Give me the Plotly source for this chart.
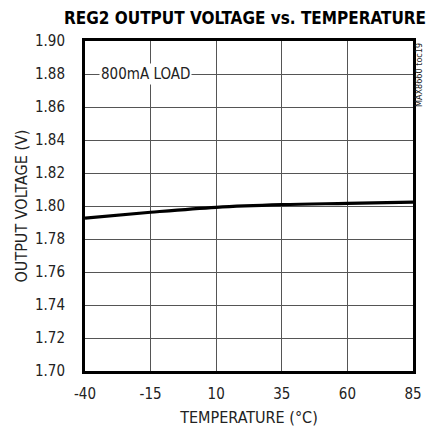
import plotly.graph_objects as go

temps = [-40, -15, 10, 35, 60, 85]
vout = [1.7927, 1.7962, 1.7992, 1.8008, 1.8016, 1.8024]
x_ticks = [-40, -15, 10, 35, 60, 85]
y_ticks = [1.70, 1.72, 1.74, 1.76, 1.78, 1.80, 1.82, 1.84, 1.86, 1.88, 1.90]

FONT = "DejaVu Sans Condensed, Liberation Sans Narrow, sans-serif"
TXT = "#222"

fig = go.Figure()
fig.add_trace(go.Scatter(x=temps, y=vout, mode="lines",
                         line=dict(color="black", width=3.2, shape="spline"),
                         showlegend=False, hoverinfo="skip"))

fig.update_layout(
    width=426, height=430,
    margin=dict(l=85, r=13, t=41, b=59, autoexpand=False),
    plot_bgcolor="white", paper_bgcolor="white",
    font=dict(family=FONT, size=15, color=TXT),
    xaxis=dict(range=[-40, 85], tickvals=x_ticks, ticktext=[str(t) for t in x_ticks],
               showgrid=True, gridcolor="#555", gridwidth=1.3, automargin=False,
               showline=True, linecolor="black", linewidth=3, mirror=True,
               zeroline=False, ticks="outside", ticklen=7, tickcolor="rgba(0,0,0,0)",
               tickfont=dict(family=FONT, size=15, color=TXT),
               title=dict(text="TEMPERATURE (°C)", font=dict(family=FONT, size=16, color=TXT), standoff=10)),
    yaxis=dict(range=[1.70, 1.90], tickvals=y_ticks, ticktext=[f"{v:.2f}" for v in y_ticks],
               showgrid=True, gridcolor="#555", gridwidth=1.3, automargin=False,
               showline=True, linecolor="black", linewidth=3, mirror=True,
               zeroline=False, ticks="outside", ticklen=14, tickcolor="rgba(0,0,0,0)",
               tickfont=dict(family=FONT, size=15, color=TXT),
               title=dict(text="OUTPUT VOLTAGE (V)", font=dict(family=FONT, size=16, color=TXT), standoff=4)),
)

fig.add_annotation(x=-17, y=1.88, xref="x", yref="y", text="800mA LOAD",
                   showarrow=False, bgcolor="white", borderpad=1,
                   font=dict(family=FONT, size=15, color=TXT))

fig.add_annotation(x=(62 - 85) / 328, y=1 + 23/330, xref="paper", yref="paper",
                   text="<b>REG2 OUTPUT VOLTAGE vs. TEMPERATURE</b>", showarrow=False,
                   xanchor="left", yanchor="middle",
                   font=dict(family=FONT, size=17, color="black"))

fig.add_annotation(x=1 + 6/328, y=1, xref="paper", yref="paper", text="MAX8660 toc19",
                   showarrow=False, textangle=-90, xanchor="center", yanchor="top",
                   font=dict(family=FONT, size=9, color=TXT))

fig.write_html("out.html", config={"displayModeBar": False},
               post_script="document.body.style.margin='0';document.body.style.overflow='hidden';")
